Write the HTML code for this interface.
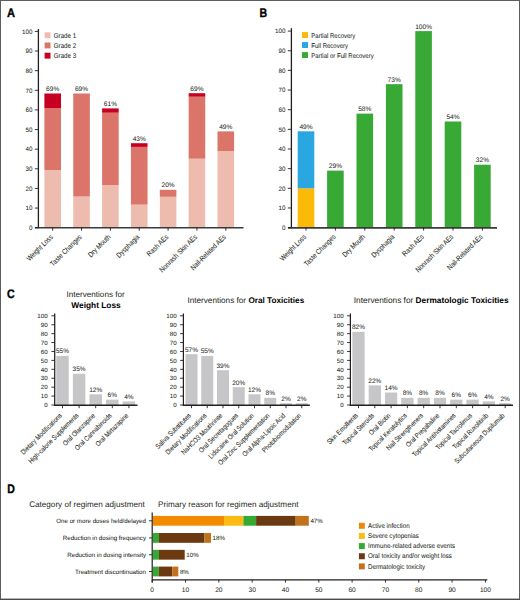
<!DOCTYPE html>
<html><head><meta charset="utf-8"><style>
html,body{margin:0;padding:0;background:#fff;}
body{width:520px;height:600px;overflow:hidden;}
svg{display:block;font-family:"Liberation Sans", sans-serif;text-rendering:geometricPrecision;}
.s{stroke:#231f20;stroke-width:0.04px;}
</style></head><body>
<svg width="520" height="600" viewBox="0 0 520 600">
<rect x="0" y="0" width="520" height="600" fill="#fff"/>
<text x="0" y="0" font-size="12.3" font-weight="bold" fill="#000" stroke="#000" stroke-width="0.35" transform="translate(6.9 16.6) scale(0.9 1)">A</text>
<text x="0" y="0" font-size="12.3" font-weight="bold" fill="#000" stroke="#000" stroke-width="0.35" transform="translate(259.6 16.6) scale(0.86 1)">B</text>
<text x="0" y="0" font-size="12.3" font-weight="bold" fill="#000" stroke="#000" stroke-width="0.35" transform="translate(7.1 298.1) scale(0.86 1)">C</text>
<text x="0" y="0" font-size="12.3" font-weight="bold" fill="#000" stroke="#000" stroke-width="0.35" transform="translate(7.3 492.9) scale(0.86 1)">D</text>
<text x="32.60" y="229.97" font-size="6.3" text-anchor="end" class="s" fill="#231f20" >0</text>
<text x="32.60" y="210.34" font-size="6.3" text-anchor="end" class="s" fill="#231f20" >10</text>
<text x="32.60" y="190.71" font-size="6.3" text-anchor="end" class="s" fill="#231f20" >20</text>
<text x="32.60" y="171.08" font-size="6.3" text-anchor="end" class="s" fill="#231f20" >30</text>
<text x="32.60" y="151.45" font-size="6.3" text-anchor="end" class="s" fill="#231f20" >40</text>
<text x="32.60" y="131.82" font-size="6.3" text-anchor="end" class="s" fill="#231f20" >50</text>
<text x="32.60" y="112.19" font-size="6.3" text-anchor="end" class="s" fill="#231f20" >60</text>
<text x="32.60" y="92.56" font-size="6.3" text-anchor="end" class="s" fill="#231f20" >70</text>
<text x="32.60" y="72.93" font-size="6.3" text-anchor="end" class="s" fill="#231f20" >80</text>
<text x="32.60" y="53.30" font-size="6.3" text-anchor="end" class="s" fill="#231f20" >90</text>
<text x="32.60" y="33.67" font-size="6.3" text-anchor="end" class="s" fill="#231f20" >100</text>
<rect x="44.40" y="170.00" width="16.60" height="57.70" fill="#eebcaf"/>
<rect x="44.40" y="108.10" width="16.60" height="61.90" fill="#dc7569"/>
<rect x="44.40" y="93.50" width="16.60" height="14.60" fill="#c70022"/>
<text x="52.70" y="90.90" font-size="6.6" text-anchor="middle" class="s" fill="#231f20" >69%</text>
<text x="0" y="0" font-size="6.4" text-anchor="end" fill="#231f20" class="s" transform="translate(53.45 237.50) rotate(-45) scale(0.97 1.15)">Weight Loss</text>
<rect x="73.25" y="196.50" width="16.60" height="31.20" fill="#eebcaf"/>
<rect x="73.25" y="93.50" width="16.60" height="103.00" fill="#dc7569"/>
<text x="81.55" y="90.90" font-size="6.6" text-anchor="middle" class="s" fill="#231f20" >69%</text>
<text x="0" y="0" font-size="6.4" text-anchor="end" fill="#231f20" class="s" transform="translate(82.30 237.50) rotate(-45) scale(0.97 1.15)">Taste Changes</text>
<rect x="102.10" y="185.00" width="16.60" height="42.70" fill="#eebcaf"/>
<rect x="102.10" y="112.70" width="16.60" height="72.30" fill="#dc7569"/>
<rect x="102.10" y="108.40" width="16.60" height="4.30" fill="#c70022"/>
<text x="110.40" y="105.80" font-size="6.6" text-anchor="middle" class="s" fill="#231f20" >61%</text>
<text x="0" y="0" font-size="6.4" text-anchor="end" fill="#231f20" class="s" transform="translate(111.15 237.50) rotate(-45) scale(0.97 1.15)">Dry Mouth</text>
<rect x="130.95" y="204.60" width="16.60" height="23.10" fill="#eebcaf"/>
<rect x="130.95" y="146.90" width="16.60" height="57.70" fill="#dc7569"/>
<rect x="130.95" y="143.20" width="16.60" height="3.70" fill="#c70022"/>
<text x="139.25" y="140.60" font-size="6.6" text-anchor="middle" class="s" fill="#231f20" >43%</text>
<text x="0" y="0" font-size="6.4" text-anchor="end" fill="#231f20" class="s" transform="translate(140.00 237.50) rotate(-45) scale(0.97 1.15)">Dysphagia</text>
<rect x="159.80" y="196.80" width="16.60" height="30.90" fill="#eebcaf"/>
<rect x="159.80" y="189.80" width="16.60" height="7.00" fill="#dc7569"/>
<text x="168.10" y="187.20" font-size="6.6" text-anchor="middle" class="s" fill="#231f20" >20%</text>
<text x="0" y="0" font-size="6.4" text-anchor="end" fill="#231f20" class="s" transform="translate(168.85 237.50) rotate(-45) scale(0.97 1.15)">Rash AEs</text>
<rect x="188.65" y="158.70" width="16.60" height="69.00" fill="#eebcaf"/>
<rect x="188.65" y="96.70" width="16.60" height="62.00" fill="#dc7569"/>
<rect x="188.65" y="93.20" width="16.60" height="3.50" fill="#c70022"/>
<text x="196.95" y="90.60" font-size="6.6" text-anchor="middle" class="s" fill="#231f20" >69%</text>
<text x="0" y="0" font-size="6.4" text-anchor="end" fill="#231f20" class="s" transform="translate(197.70 237.50) rotate(-45) scale(0.97 1.15)">Nonrash Skin AEs</text>
<rect x="217.50" y="151.00" width="16.60" height="76.70" fill="#eebcaf"/>
<rect x="217.50" y="131.40" width="16.60" height="19.60" fill="#dc7569"/>
<text x="225.80" y="128.80" font-size="6.6" text-anchor="middle" class="s" fill="#231f20" >49%</text>
<text x="0" y="0" font-size="6.4" text-anchor="end" fill="#231f20" class="s" transform="translate(226.55 237.50) rotate(-45) scale(0.97 1.15)">Nail-Related AEs</text>
<rect x="44.60" y="32.30" width="5.90" height="5.90" fill="#eebcaf"/>
<text x="0" y="0" font-size="6.3" fill="#231f20" class="s" transform="translate(53.80 37.70) scale(0.98 1.09)">Grade 1</text>
<rect x="44.60" y="42.50" width="5.90" height="5.90" fill="#dc7569"/>
<text x="0" y="0" font-size="6.3" fill="#231f20" class="s" transform="translate(53.80 47.90) scale(0.98 1.09)">Grade 2</text>
<rect x="44.60" y="52.70" width="5.90" height="5.90" fill="#c70022"/>
<text x="0" y="0" font-size="6.3" fill="#231f20" class="s" transform="translate(53.80 58.10) scale(0.98 1.09)">Grade 3</text>
<text x="285.60" y="229.87" font-size="6.3" text-anchor="end" class="s" fill="#231f20" >0</text>
<text x="285.60" y="210.22" font-size="6.3" text-anchor="end" class="s" fill="#231f20" >10</text>
<text x="285.60" y="190.57" font-size="6.3" text-anchor="end" class="s" fill="#231f20" >20</text>
<text x="285.60" y="170.92" font-size="6.3" text-anchor="end" class="s" fill="#231f20" >30</text>
<text x="285.60" y="151.27" font-size="6.3" text-anchor="end" class="s" fill="#231f20" >40</text>
<text x="285.60" y="131.62" font-size="6.3" text-anchor="end" class="s" fill="#231f20" >50</text>
<text x="285.60" y="111.97" font-size="6.3" text-anchor="end" class="s" fill="#231f20" >60</text>
<text x="285.60" y="92.32" font-size="6.3" text-anchor="end" class="s" fill="#231f20" >70</text>
<text x="285.60" y="72.67" font-size="6.3" text-anchor="end" class="s" fill="#231f20" >80</text>
<text x="285.60" y="53.02" font-size="6.3" text-anchor="end" class="s" fill="#231f20" >90</text>
<text x="285.60" y="33.37" font-size="6.3" text-anchor="end" class="s" fill="#231f20" >100</text>
<rect x="297.70" y="188.30" width="16.60" height="39.30" fill="#fcba08"/>
<rect x="297.70" y="131.31" width="16.60" height="56.98" fill="#2aa6e0"/>
<text x="306.00" y="128.72" font-size="6.6" text-anchor="middle" class="s" fill="#231f20" >49%</text>
<text x="0" y="0" font-size="6.4" text-anchor="end" fill="#231f20" class="s" transform="translate(306.75 237.40) rotate(-45) scale(0.97 1.15)">Weight Loss</text>
<rect x="327.10" y="170.62" width="16.60" height="56.98" fill="#39a935"/>
<text x="335.40" y="168.02" font-size="6.6" text-anchor="middle" class="s" fill="#231f20" >29%</text>
<text x="0" y="0" font-size="6.4" text-anchor="end" fill="#231f20" class="s" transform="translate(336.15 237.40) rotate(-45) scale(0.97 1.15)">Taste Changes</text>
<rect x="356.50" y="113.63" width="16.60" height="113.97" fill="#39a935"/>
<text x="364.80" y="111.03" font-size="6.6" text-anchor="middle" class="s" fill="#231f20" >58%</text>
<text x="0" y="0" font-size="6.4" text-anchor="end" fill="#231f20" class="s" transform="translate(365.55 237.40) rotate(-45) scale(0.97 1.15)">Dry Mouth</text>
<rect x="385.90" y="84.16" width="16.60" height="143.44" fill="#39a935"/>
<text x="394.20" y="81.56" font-size="6.6" text-anchor="middle" class="s" fill="#231f20" >73%</text>
<text x="0" y="0" font-size="6.4" text-anchor="end" fill="#231f20" class="s" transform="translate(394.95 237.40) rotate(-45) scale(0.97 1.15)">Dysphagia</text>
<rect x="415.30" y="31.10" width="16.60" height="196.50" fill="#39a935"/>
<text x="423.60" y="28.50" font-size="6.6" text-anchor="middle" class="s" fill="#231f20" >100%</text>
<text x="0" y="0" font-size="6.4" text-anchor="end" fill="#231f20" class="s" transform="translate(424.35 237.40) rotate(-45) scale(0.97 1.15)">Rash AEs</text>
<rect x="444.70" y="121.49" width="16.60" height="106.11" fill="#39a935"/>
<text x="453.00" y="118.89" font-size="6.6" text-anchor="middle" class="s" fill="#231f20" >54%</text>
<text x="0" y="0" font-size="6.4" text-anchor="end" fill="#231f20" class="s" transform="translate(453.75 237.40) rotate(-45) scale(0.97 1.15)">Nonrash Skin AEs</text>
<rect x="474.10" y="164.72" width="16.60" height="62.88" fill="#39a935"/>
<text x="482.40" y="162.12" font-size="6.6" text-anchor="middle" class="s" fill="#231f20" >32%</text>
<text x="0" y="0" font-size="6.4" text-anchor="end" fill="#231f20" class="s" transform="translate(483.15 237.40) rotate(-45) scale(0.97 1.15)">Nail-Related AEs</text>
<rect x="302.00" y="32.10" width="6.00" height="5.90" fill="#fcba08"/>
<text x="0" y="0" font-size="6.2" fill="#231f20" class="s" transform="translate(311.30 37.50) scale(0.97 1.09)">Partial Recovery</text>
<rect x="302.00" y="42.10" width="6.00" height="5.90" fill="#2aa6e0"/>
<text x="0" y="0" font-size="6.2" fill="#231f20" class="s" transform="translate(311.30 47.50) scale(0.97 1.09)">Full Recovery</text>
<rect x="302.00" y="52.10" width="6.00" height="5.90" fill="#39a935"/>
<text x="0" y="0" font-size="6.2" fill="#231f20" class="s" transform="translate(311.30 57.50) scale(0.97 1.09)">Partial or Full Recovery</text>
<text x="47.70" y="407.20" font-size="6.2" text-anchor="end" class="s" fill="#231f20" >0</text>
<text x="47.70" y="398.28" font-size="6.2" text-anchor="end" class="s" fill="#231f20" >10</text>
<text x="47.70" y="389.36" font-size="6.2" text-anchor="end" class="s" fill="#231f20" >20</text>
<text x="47.70" y="380.44" font-size="6.2" text-anchor="end" class="s" fill="#231f20" >30</text>
<text x="47.70" y="371.52" font-size="6.2" text-anchor="end" class="s" fill="#231f20" >40</text>
<text x="47.70" y="362.60" font-size="6.2" text-anchor="end" class="s" fill="#231f20" >50</text>
<text x="47.70" y="353.68" font-size="6.2" text-anchor="end" class="s" fill="#231f20" >60</text>
<text x="47.70" y="344.76" font-size="6.2" text-anchor="end" class="s" fill="#231f20" >70</text>
<text x="47.70" y="335.84" font-size="6.2" text-anchor="end" class="s" fill="#231f20" >80</text>
<text x="47.70" y="326.92" font-size="6.2" text-anchor="end" class="s" fill="#231f20" >90</text>
<text x="47.70" y="318.00" font-size="6.2" text-anchor="end" class="s" fill="#231f20" >100</text>
<rect x="56.25" y="355.94" width="12.50" height="49.06" fill="#c6c5c8"/>
<text x="62.50" y="353.34" font-size="6.5" text-anchor="middle" class="s" fill="#231f20" >55%</text>
<text x="0" y="0" font-size="6.1" text-anchor="end" fill="#231f20" class="s" transform="translate(62.40 416.10) rotate(-45) scale(0.97 1.15)">Dietary Modifications</text>
<rect x="72.85" y="373.78" width="12.50" height="31.22" fill="#c6c5c8"/>
<text x="79.10" y="371.18" font-size="6.5" text-anchor="middle" class="s" fill="#231f20" >35%</text>
<text x="0" y="0" font-size="6.1" text-anchor="end" fill="#231f20" class="s" transform="translate(79.00 416.10) rotate(-45) scale(0.97 1.15)">High-calorie Supplements</text>
<rect x="89.45" y="394.30" width="12.50" height="10.70" fill="#c6c5c8"/>
<text x="95.70" y="391.70" font-size="6.5" text-anchor="middle" class="s" fill="#231f20" >12%</text>
<text x="0" y="0" font-size="6.1" text-anchor="end" fill="#231f20" class="s" transform="translate(95.60 416.10) rotate(-45) scale(0.97 1.15)">Oral Olanzapine</text>
<rect x="106.05" y="399.65" width="12.50" height="5.35" fill="#c6c5c8"/>
<text x="112.30" y="397.05" font-size="6.5" text-anchor="middle" class="s" fill="#231f20" >6%</text>
<text x="0" y="0" font-size="6.1" text-anchor="end" fill="#231f20" class="s" transform="translate(112.20 416.10) rotate(-45) scale(0.97 1.15)">Oral Cannabinoids</text>
<rect x="122.65" y="401.43" width="12.50" height="3.57" fill="#c6c5c8"/>
<text x="128.90" y="398.83" font-size="6.5" text-anchor="middle" class="s" fill="#231f20" >4%</text>
<text x="0" y="0" font-size="6.1" text-anchor="end" fill="#231f20" class="s" transform="translate(128.80 416.10) rotate(-45) scale(0.97 1.15)">Oral Mirtazapine</text>
<text x="176.70" y="407.20" font-size="6.2" text-anchor="end" class="s" fill="#231f20" >0</text>
<text x="176.70" y="398.28" font-size="6.2" text-anchor="end" class="s" fill="#231f20" >10</text>
<text x="176.70" y="389.36" font-size="6.2" text-anchor="end" class="s" fill="#231f20" >20</text>
<text x="176.70" y="380.44" font-size="6.2" text-anchor="end" class="s" fill="#231f20" >30</text>
<text x="176.70" y="371.52" font-size="6.2" text-anchor="end" class="s" fill="#231f20" >40</text>
<text x="176.70" y="362.60" font-size="6.2" text-anchor="end" class="s" fill="#231f20" >50</text>
<text x="176.70" y="353.68" font-size="6.2" text-anchor="end" class="s" fill="#231f20" >60</text>
<text x="176.70" y="344.76" font-size="6.2" text-anchor="end" class="s" fill="#231f20" >70</text>
<text x="176.70" y="335.84" font-size="6.2" text-anchor="end" class="s" fill="#231f20" >80</text>
<text x="176.70" y="326.92" font-size="6.2" text-anchor="end" class="s" fill="#231f20" >90</text>
<text x="176.70" y="318.00" font-size="6.2" text-anchor="end" class="s" fill="#231f20" >100</text>
<rect x="185.50" y="354.16" width="12.00" height="50.84" fill="#c6c5c8"/>
<text x="191.50" y="351.56" font-size="6.5" text-anchor="middle" class="s" fill="#231f20" >57%</text>
<text x="0" y="0" font-size="6.1" text-anchor="end" fill="#231f20" class="s" transform="translate(191.40 416.10) rotate(-45) scale(0.97 1.15)">Saliva Substitutes</text>
<rect x="201.25" y="355.94" width="12.00" height="49.06" fill="#c6c5c8"/>
<text x="207.25" y="353.34" font-size="6.5" text-anchor="middle" class="s" fill="#231f20" >55%</text>
<text x="0" y="0" font-size="6.1" text-anchor="end" fill="#231f20" class="s" transform="translate(207.15 416.10) rotate(-45) scale(0.97 1.15)">Dietary Modifications</text>
<rect x="217.00" y="370.21" width="12.00" height="34.79" fill="#c6c5c8"/>
<text x="223.00" y="367.61" font-size="6.5" text-anchor="middle" class="s" fill="#231f20" >39%</text>
<text x="0" y="0" font-size="6.1" text-anchor="end" fill="#231f20" class="s" transform="translate(222.90 416.10) rotate(-45) scale(0.97 1.15)">NaHCO3 Mouthrinse</text>
<rect x="232.75" y="387.16" width="12.00" height="17.84" fill="#c6c5c8"/>
<text x="238.75" y="384.56" font-size="6.5" text-anchor="middle" class="s" fill="#231f20" >20%</text>
<text x="0" y="0" font-size="6.1" text-anchor="end" fill="#231f20" class="s" transform="translate(238.65 416.10) rotate(-45) scale(0.97 1.15)">Oral Secretagogues</text>
<rect x="248.50" y="394.30" width="12.00" height="10.70" fill="#c6c5c8"/>
<text x="254.50" y="391.70" font-size="6.5" text-anchor="middle" class="s" fill="#231f20" >12%</text>
<text x="0" y="0" font-size="6.1" text-anchor="end" fill="#231f20" class="s" transform="translate(254.40 416.10) rotate(-45) scale(0.97 1.15)">Lidocaine Oral Solution</text>
<rect x="264.25" y="397.86" width="12.00" height="7.14" fill="#c6c5c8"/>
<text x="270.25" y="395.26" font-size="6.5" text-anchor="middle" class="s" fill="#231f20" >8%</text>
<text x="0" y="0" font-size="6.1" text-anchor="end" fill="#231f20" class="s" transform="translate(270.15 416.10) rotate(-45) scale(0.97 1.15)">Oral Zinc Supplementation</text>
<rect x="280.00" y="403.22" width="12.00" height="1.78" fill="#c6c5c8"/>
<text x="286.00" y="400.62" font-size="6.5" text-anchor="middle" class="s" fill="#231f20" >2%</text>
<text x="0" y="0" font-size="6.1" text-anchor="end" fill="#231f20" class="s" transform="translate(285.90 416.10) rotate(-45) scale(0.97 1.15)">Oral Alpha-Lipoic Acid</text>
<rect x="295.75" y="403.22" width="12.00" height="1.78" fill="#c6c5c8"/>
<text x="301.75" y="400.62" font-size="6.5" text-anchor="middle" class="s" fill="#231f20" >2%</text>
<text x="0" y="0" font-size="6.1" text-anchor="end" fill="#231f20" class="s" transform="translate(301.65 416.10) rotate(-45) scale(0.97 1.15)">Photobiomodulation</text>
<text x="343.70" y="407.20" font-size="6.2" text-anchor="end" class="s" fill="#231f20" >0</text>
<text x="343.70" y="398.28" font-size="6.2" text-anchor="end" class="s" fill="#231f20" >10</text>
<text x="343.70" y="389.36" font-size="6.2" text-anchor="end" class="s" fill="#231f20" >20</text>
<text x="343.70" y="380.44" font-size="6.2" text-anchor="end" class="s" fill="#231f20" >30</text>
<text x="343.70" y="371.52" font-size="6.2" text-anchor="end" class="s" fill="#231f20" >40</text>
<text x="343.70" y="362.60" font-size="6.2" text-anchor="end" class="s" fill="#231f20" >50</text>
<text x="343.70" y="353.68" font-size="6.2" text-anchor="end" class="s" fill="#231f20" >60</text>
<text x="343.70" y="344.76" font-size="6.2" text-anchor="end" class="s" fill="#231f20" >70</text>
<text x="343.70" y="335.84" font-size="6.2" text-anchor="end" class="s" fill="#231f20" >80</text>
<text x="343.70" y="326.92" font-size="6.2" text-anchor="end" class="s" fill="#231f20" >90</text>
<text x="343.70" y="318.00" font-size="6.2" text-anchor="end" class="s" fill="#231f20" >100</text>
<rect x="352.35" y="331.86" width="12.30" height="73.14" fill="#c6c5c8"/>
<text x="358.50" y="329.26" font-size="6.5" text-anchor="middle" class="s" fill="#231f20" >82%</text>
<text x="0" y="0" font-size="6.1" text-anchor="end" fill="#231f20" class="s" transform="translate(358.40 416.10) rotate(-45) scale(0.97 1.15)">Skin Emollients</text>
<rect x="368.65" y="385.38" width="12.30" height="19.62" fill="#c6c5c8"/>
<text x="374.80" y="382.78" font-size="6.5" text-anchor="middle" class="s" fill="#231f20" >22%</text>
<text x="0" y="0" font-size="6.1" text-anchor="end" fill="#231f20" class="s" transform="translate(374.70 416.10) rotate(-45) scale(0.97 1.15)">Topical Steroids</text>
<rect x="384.95" y="392.51" width="12.30" height="12.49" fill="#c6c5c8"/>
<text x="391.10" y="389.91" font-size="6.5" text-anchor="middle" class="s" fill="#231f20" >14%</text>
<text x="0" y="0" font-size="6.1" text-anchor="end" fill="#231f20" class="s" transform="translate(391.00 416.10) rotate(-45) scale(0.97 1.15)">Oral Biotin</text>
<rect x="401.25" y="397.86" width="12.30" height="7.14" fill="#c6c5c8"/>
<text x="407.40" y="395.26" font-size="6.5" text-anchor="middle" class="s" fill="#231f20" >8%</text>
<text x="0" y="0" font-size="6.1" text-anchor="end" fill="#231f20" class="s" transform="translate(407.30 416.10) rotate(-45) scale(0.97 1.15)">Topical  Keratolytics</text>
<rect x="417.55" y="397.86" width="12.30" height="7.14" fill="#c6c5c8"/>
<text x="423.70" y="395.26" font-size="6.5" text-anchor="middle" class="s" fill="#231f20" >8%</text>
<text x="0" y="0" font-size="6.1" text-anchor="end" fill="#231f20" class="s" transform="translate(423.60 416.10) rotate(-45) scale(0.97 1.15)">Nail Strengtheners</text>
<rect x="433.85" y="397.86" width="12.30" height="7.14" fill="#c6c5c8"/>
<text x="440.00" y="395.26" font-size="6.5" text-anchor="middle" class="s" fill="#231f20" >8%</text>
<text x="0" y="0" font-size="6.1" text-anchor="end" fill="#231f20" class="s" transform="translate(439.90 416.10) rotate(-45) scale(0.97 1.15)">Oral Pregabaline</text>
<rect x="450.15" y="399.65" width="12.30" height="5.35" fill="#c6c5c8"/>
<text x="456.30" y="397.05" font-size="6.5" text-anchor="middle" class="s" fill="#231f20" >6%</text>
<text x="0" y="0" font-size="6.1" text-anchor="end" fill="#231f20" class="s" transform="translate(456.20 416.10) rotate(-45) scale(0.97 1.15)">Topical Antihistamines</text>
<rect x="466.45" y="399.65" width="12.30" height="5.35" fill="#c6c5c8"/>
<text x="472.60" y="397.05" font-size="6.5" text-anchor="middle" class="s" fill="#231f20" >6%</text>
<text x="0" y="0" font-size="6.1" text-anchor="end" fill="#231f20" class="s" transform="translate(472.50 416.10) rotate(-45) scale(0.97 1.15)">Topical Tacrolimus</text>
<rect x="482.75" y="401.43" width="12.30" height="3.57" fill="#c6c5c8"/>
<text x="488.90" y="398.83" font-size="6.5" text-anchor="middle" class="s" fill="#231f20" >4%</text>
<text x="0" y="0" font-size="6.1" text-anchor="end" fill="#231f20" class="s" transform="translate(488.80 416.10) rotate(-45) scale(0.97 1.15)">Topical Ruxolitinib</text>
<rect x="499.05" y="403.22" width="12.30" height="1.78" fill="#c6c5c8"/>
<text x="505.20" y="400.62" font-size="6.5" text-anchor="middle" class="s" fill="#231f20" >2%</text>
<text x="0" y="0" font-size="6.1" text-anchor="end" fill="#231f20" class="s" transform="translate(505.10 416.10) rotate(-45) scale(0.97 1.15)">Subcutaneous Dupilumab</text>
<text x="95.60" y="297.40" font-size="8.15" text-anchor="middle" fill="#231f20" >Interventions for</text>
<text x="96.00" y="307.80" font-size="8.35" text-anchor="middle" font-weight="bold" fill="#000" >Weight Loss</text>
<text x="187.4" y="302.8" font-size="8.2" fill="#231f20">Interventions for <tspan font-weight="bold" fill="#000">Oral Toxicities</tspan></text>
<text x="353.8" y="302.9" font-size="8.3" fill="#231f20">Interventions for <tspan font-weight="bold" fill="#000">Dermatologic Toxicities</tspan></text>
<text x="29.20" y="506.80" font-size="8.15" text-anchor="start" fill="#231f20" >Category of regimen adjustment</text>
<text x="158.00" y="506.80" font-size="8.13" text-anchor="start" fill="#231f20" >Primary reason for regimen adjustment</text>
<text x="152.20" y="592.00" font-size="6.6" text-anchor="middle" class="s" fill="#231f20" >0</text>
<text x="185.52" y="592.00" font-size="6.6" text-anchor="middle" class="s" fill="#231f20" >10</text>
<text x="218.84" y="592.00" font-size="6.6" text-anchor="middle" class="s" fill="#231f20" >20</text>
<text x="252.16" y="592.00" font-size="6.6" text-anchor="middle" class="s" fill="#231f20" >30</text>
<text x="285.48" y="592.00" font-size="6.6" text-anchor="middle" class="s" fill="#231f20" >40</text>
<text x="318.80" y="592.00" font-size="6.6" text-anchor="middle" class="s" fill="#231f20" >50</text>
<text x="352.12" y="592.00" font-size="6.6" text-anchor="middle" class="s" fill="#231f20" >60</text>
<text x="385.44" y="592.00" font-size="6.6" text-anchor="middle" class="s" fill="#231f20" >70</text>
<text x="418.76" y="592.00" font-size="6.6" text-anchor="middle" class="s" fill="#231f20" >80</text>
<text x="452.08" y="592.00" font-size="6.6" text-anchor="middle" class="s" fill="#231f20" >90</text>
<text x="485.40" y="592.00" font-size="6.6" text-anchor="middle" class="s" fill="#231f20" >100</text>
<rect x="152.80" y="515.90" width="71.20" height="9.80" fill="#f38b00"/>
<rect x="224.00" y="515.90" width="19.40" height="9.80" fill="#fbbb14"/>
<rect x="243.40" y="515.90" width="12.70" height="9.80" fill="#36a935"/>
<rect x="256.10" y="515.90" width="39.60" height="9.80" fill="#6b3a10"/>
<rect x="295.70" y="515.90" width="13.10" height="9.80" fill="#c2721d"/>
<text x="146.00" y="523.00" font-size="6.2" text-anchor="end" class="s" fill="#231f20" >One or more doses held/delayed</text>
<text x="310.40" y="523.00" font-size="6.2" text-anchor="start" class="s" fill="#231f20" >47%</text>
<rect x="152.80" y="533.00" width="6.20" height="9.80" fill="#36a935"/>
<rect x="159.00" y="533.00" width="45.50" height="9.80" fill="#6b3a10"/>
<rect x="204.50" y="533.00" width="6.50" height="9.80" fill="#c2721d"/>
<text x="146.00" y="540.10" font-size="6.2" text-anchor="end" class="s" fill="#231f20" >Reduction in dosing frequency</text>
<text x="212.60" y="540.10" font-size="6.2" text-anchor="start" class="s" fill="#231f20" >18%</text>
<rect x="152.80" y="549.85" width="6.20" height="9.80" fill="#36a935"/>
<rect x="159.00" y="549.85" width="25.70" height="9.80" fill="#6b3a10"/>
<text x="146.00" y="556.95" font-size="6.2" text-anchor="end" class="s" fill="#231f20" >Reduction in dosing intensity</text>
<text x="186.30" y="556.95" font-size="6.2" text-anchor="start" class="s" fill="#231f20" >10%</text>
<rect x="152.80" y="566.60" width="6.00" height="9.80" fill="#36a935"/>
<rect x="158.80" y="566.60" width="13.40" height="9.80" fill="#6b3a10"/>
<rect x="172.20" y="566.60" width="6.10" height="9.80" fill="#c2721d"/>
<text x="146.00" y="573.70" font-size="6.2" text-anchor="end" class="s" fill="#231f20" >Treatment discontinuation</text>
<text x="179.90" y="573.70" font-size="6.2" text-anchor="start" class="s" fill="#231f20" >8%</text>
<rect x="358.90" y="522.80" width="5.90" height="6.00" fill="#ec880a"/>
<text x="0" y="0" font-size="6.2" fill="#231f20" class="s" transform="translate(368.00 528.00) scale(1.0 1.09)">Active infection</text>
<rect x="358.90" y="532.95" width="5.90" height="6.00" fill="#f7c00c"/>
<text x="0" y="0" font-size="6.2" fill="#231f20" class="s" transform="translate(368.00 538.15) scale(1.0 1.09)">Severe cytopenias</text>
<rect x="358.90" y="543.10" width="5.90" height="6.00" fill="#36a935"/>
<text x="0" y="0" font-size="6.2" fill="#231f20" class="s" transform="translate(368.00 548.30) scale(1.0 1.09)">Immune-related adverse events</text>
<rect x="358.90" y="553.25" width="5.90" height="6.00" fill="#6b3a10"/>
<text x="0" y="0" font-size="6.2" fill="#231f20" class="s" transform="translate(368.00 558.45) scale(1.0 1.09)">Oral toxicity and/or weight loss</text>
<rect x="358.90" y="563.40" width="5.90" height="6.00" fill="#c2721d"/>
<text x="0" y="0" font-size="6.2" fill="#231f20" class="s" transform="translate(368.00 568.60) scale(1.0 1.09)">Dermatologic toxicity</text>
<line x1="38.40" y1="29.00" x2="38.40" y2="228.20" stroke="#231f20" stroke-width="1.3"/>
<line x1="35.00" y1="227.70" x2="243.50" y2="227.70" stroke="#3a3a3a" stroke-width="1.6"/>
<line x1="34.80" y1="227.70" x2="38.40" y2="227.70" stroke="#231f20" stroke-width="0.9"/>
<line x1="34.80" y1="208.07" x2="38.40" y2="208.07" stroke="#231f20" stroke-width="0.9"/>
<line x1="34.80" y1="188.44" x2="38.40" y2="188.44" stroke="#231f20" stroke-width="0.9"/>
<line x1="34.80" y1="168.81" x2="38.40" y2="168.81" stroke="#231f20" stroke-width="0.9"/>
<line x1="34.80" y1="149.18" x2="38.40" y2="149.18" stroke="#231f20" stroke-width="0.9"/>
<line x1="34.80" y1="129.55" x2="38.40" y2="129.55" stroke="#231f20" stroke-width="0.9"/>
<line x1="34.80" y1="109.92" x2="38.40" y2="109.92" stroke="#231f20" stroke-width="0.9"/>
<line x1="34.80" y1="90.29" x2="38.40" y2="90.29" stroke="#231f20" stroke-width="0.9"/>
<line x1="34.80" y1="70.66" x2="38.40" y2="70.66" stroke="#231f20" stroke-width="0.9"/>
<line x1="34.80" y1="51.03" x2="38.40" y2="51.03" stroke="#231f20" stroke-width="0.9"/>
<line x1="34.80" y1="31.40" x2="38.40" y2="31.40" stroke="#231f20" stroke-width="0.9"/>
<line x1="52.70" y1="227.70" x2="52.70" y2="230.70" stroke="#231f20" stroke-width="0.9"/>
<line x1="81.55" y1="227.70" x2="81.55" y2="230.70" stroke="#231f20" stroke-width="0.9"/>
<line x1="110.40" y1="227.70" x2="110.40" y2="230.70" stroke="#231f20" stroke-width="0.9"/>
<line x1="139.25" y1="227.70" x2="139.25" y2="230.70" stroke="#231f20" stroke-width="0.9"/>
<line x1="168.10" y1="227.70" x2="168.10" y2="230.70" stroke="#231f20" stroke-width="0.9"/>
<line x1="196.95" y1="227.70" x2="196.95" y2="230.70" stroke="#231f20" stroke-width="0.9"/>
<line x1="225.80" y1="227.70" x2="225.80" y2="230.70" stroke="#231f20" stroke-width="0.9"/>
<line x1="291.40" y1="28.20" x2="291.40" y2="228.40" stroke="#231f20" stroke-width="1.3"/>
<line x1="288.00" y1="227.90" x2="497.00" y2="227.90" stroke="#3a3a3a" stroke-width="1.6"/>
<line x1="287.80" y1="227.60" x2="291.40" y2="227.60" stroke="#231f20" stroke-width="0.9"/>
<line x1="287.80" y1="207.95" x2="291.40" y2="207.95" stroke="#231f20" stroke-width="0.9"/>
<line x1="287.80" y1="188.30" x2="291.40" y2="188.30" stroke="#231f20" stroke-width="0.9"/>
<line x1="287.80" y1="168.65" x2="291.40" y2="168.65" stroke="#231f20" stroke-width="0.9"/>
<line x1="287.80" y1="149.00" x2="291.40" y2="149.00" stroke="#231f20" stroke-width="0.9"/>
<line x1="287.80" y1="129.35" x2="291.40" y2="129.35" stroke="#231f20" stroke-width="0.9"/>
<line x1="287.80" y1="109.70" x2="291.40" y2="109.70" stroke="#231f20" stroke-width="0.9"/>
<line x1="287.80" y1="90.05" x2="291.40" y2="90.05" stroke="#231f20" stroke-width="0.9"/>
<line x1="287.80" y1="70.40" x2="291.40" y2="70.40" stroke="#231f20" stroke-width="0.9"/>
<line x1="287.80" y1="50.75" x2="291.40" y2="50.75" stroke="#231f20" stroke-width="0.9"/>
<line x1="287.80" y1="31.10" x2="291.40" y2="31.10" stroke="#231f20" stroke-width="0.9"/>
<line x1="306.00" y1="227.60" x2="306.00" y2="230.60" stroke="#231f20" stroke-width="0.9"/>
<line x1="335.40" y1="227.60" x2="335.40" y2="230.60" stroke="#231f20" stroke-width="0.9"/>
<line x1="364.80" y1="227.60" x2="364.80" y2="230.60" stroke="#231f20" stroke-width="0.9"/>
<line x1="394.20" y1="227.60" x2="394.20" y2="230.60" stroke="#231f20" stroke-width="0.9"/>
<line x1="423.60" y1="227.60" x2="423.60" y2="230.60" stroke="#231f20" stroke-width="0.9"/>
<line x1="453.00" y1="227.60" x2="453.00" y2="230.60" stroke="#231f20" stroke-width="0.9"/>
<line x1="482.40" y1="227.60" x2="482.40" y2="230.60" stroke="#231f20" stroke-width="0.9"/>
<line x1="54.70" y1="313.50" x2="54.70" y2="406.00" stroke="#231f20" stroke-width="1.25"/>
<line x1="54.20" y1="405.30" x2="137.50" y2="405.30" stroke="#231f20" stroke-width="1.6"/>
<line x1="51.40" y1="405.00" x2="54.70" y2="405.00" stroke="#231f20" stroke-width="0.9"/>
<line x1="51.40" y1="396.08" x2="54.70" y2="396.08" stroke="#231f20" stroke-width="0.9"/>
<line x1="51.40" y1="387.16" x2="54.70" y2="387.16" stroke="#231f20" stroke-width="0.9"/>
<line x1="51.40" y1="378.24" x2="54.70" y2="378.24" stroke="#231f20" stroke-width="0.9"/>
<line x1="51.40" y1="369.32" x2="54.70" y2="369.32" stroke="#231f20" stroke-width="0.9"/>
<line x1="51.40" y1="360.40" x2="54.70" y2="360.40" stroke="#231f20" stroke-width="0.9"/>
<line x1="51.40" y1="351.48" x2="54.70" y2="351.48" stroke="#231f20" stroke-width="0.9"/>
<line x1="51.40" y1="342.56" x2="54.70" y2="342.56" stroke="#231f20" stroke-width="0.9"/>
<line x1="51.40" y1="333.64" x2="54.70" y2="333.64" stroke="#231f20" stroke-width="0.9"/>
<line x1="51.40" y1="324.72" x2="54.70" y2="324.72" stroke="#231f20" stroke-width="0.9"/>
<line x1="51.40" y1="315.80" x2="54.70" y2="315.80" stroke="#231f20" stroke-width="0.9"/>
<line x1="62.50" y1="405.50" x2="62.50" y2="408.20" stroke="#231f20" stroke-width="0.9"/>
<line x1="79.10" y1="405.50" x2="79.10" y2="408.20" stroke="#231f20" stroke-width="0.9"/>
<line x1="95.70" y1="405.50" x2="95.70" y2="408.20" stroke="#231f20" stroke-width="0.9"/>
<line x1="112.30" y1="405.50" x2="112.30" y2="408.20" stroke="#231f20" stroke-width="0.9"/>
<line x1="128.90" y1="405.50" x2="128.90" y2="408.20" stroke="#231f20" stroke-width="0.9"/>
<line x1="183.40" y1="313.50" x2="183.40" y2="406.00" stroke="#231f20" stroke-width="1.25"/>
<line x1="182.90" y1="405.30" x2="309.80" y2="405.30" stroke="#231f20" stroke-width="1.6"/>
<line x1="180.10" y1="405.00" x2="183.40" y2="405.00" stroke="#231f20" stroke-width="0.9"/>
<line x1="180.10" y1="396.08" x2="183.40" y2="396.08" stroke="#231f20" stroke-width="0.9"/>
<line x1="180.10" y1="387.16" x2="183.40" y2="387.16" stroke="#231f20" stroke-width="0.9"/>
<line x1="180.10" y1="378.24" x2="183.40" y2="378.24" stroke="#231f20" stroke-width="0.9"/>
<line x1="180.10" y1="369.32" x2="183.40" y2="369.32" stroke="#231f20" stroke-width="0.9"/>
<line x1="180.10" y1="360.40" x2="183.40" y2="360.40" stroke="#231f20" stroke-width="0.9"/>
<line x1="180.10" y1="351.48" x2="183.40" y2="351.48" stroke="#231f20" stroke-width="0.9"/>
<line x1="180.10" y1="342.56" x2="183.40" y2="342.56" stroke="#231f20" stroke-width="0.9"/>
<line x1="180.10" y1="333.64" x2="183.40" y2="333.64" stroke="#231f20" stroke-width="0.9"/>
<line x1="180.10" y1="324.72" x2="183.40" y2="324.72" stroke="#231f20" stroke-width="0.9"/>
<line x1="180.10" y1="315.80" x2="183.40" y2="315.80" stroke="#231f20" stroke-width="0.9"/>
<line x1="191.50" y1="405.50" x2="191.50" y2="408.20" stroke="#231f20" stroke-width="0.9"/>
<line x1="207.25" y1="405.50" x2="207.25" y2="408.20" stroke="#231f20" stroke-width="0.9"/>
<line x1="223.00" y1="405.50" x2="223.00" y2="408.20" stroke="#231f20" stroke-width="0.9"/>
<line x1="238.75" y1="405.50" x2="238.75" y2="408.20" stroke="#231f20" stroke-width="0.9"/>
<line x1="254.50" y1="405.50" x2="254.50" y2="408.20" stroke="#231f20" stroke-width="0.9"/>
<line x1="270.25" y1="405.50" x2="270.25" y2="408.20" stroke="#231f20" stroke-width="0.9"/>
<line x1="286.00" y1="405.50" x2="286.00" y2="408.20" stroke="#231f20" stroke-width="0.9"/>
<line x1="301.75" y1="405.50" x2="301.75" y2="408.20" stroke="#231f20" stroke-width="0.9"/>
<line x1="350.40" y1="313.50" x2="350.40" y2="406.00" stroke="#231f20" stroke-width="1.25"/>
<line x1="349.90" y1="405.30" x2="513.00" y2="405.30" stroke="#231f20" stroke-width="1.6"/>
<line x1="347.10" y1="405.00" x2="350.40" y2="405.00" stroke="#231f20" stroke-width="0.9"/>
<line x1="347.10" y1="396.08" x2="350.40" y2="396.08" stroke="#231f20" stroke-width="0.9"/>
<line x1="347.10" y1="387.16" x2="350.40" y2="387.16" stroke="#231f20" stroke-width="0.9"/>
<line x1="347.10" y1="378.24" x2="350.40" y2="378.24" stroke="#231f20" stroke-width="0.9"/>
<line x1="347.10" y1="369.32" x2="350.40" y2="369.32" stroke="#231f20" stroke-width="0.9"/>
<line x1="347.10" y1="360.40" x2="350.40" y2="360.40" stroke="#231f20" stroke-width="0.9"/>
<line x1="347.10" y1="351.48" x2="350.40" y2="351.48" stroke="#231f20" stroke-width="0.9"/>
<line x1="347.10" y1="342.56" x2="350.40" y2="342.56" stroke="#231f20" stroke-width="0.9"/>
<line x1="347.10" y1="333.64" x2="350.40" y2="333.64" stroke="#231f20" stroke-width="0.9"/>
<line x1="347.10" y1="324.72" x2="350.40" y2="324.72" stroke="#231f20" stroke-width="0.9"/>
<line x1="347.10" y1="315.80" x2="350.40" y2="315.80" stroke="#231f20" stroke-width="0.9"/>
<line x1="358.50" y1="405.50" x2="358.50" y2="408.20" stroke="#231f20" stroke-width="0.9"/>
<line x1="374.80" y1="405.50" x2="374.80" y2="408.20" stroke="#231f20" stroke-width="0.9"/>
<line x1="391.10" y1="405.50" x2="391.10" y2="408.20" stroke="#231f20" stroke-width="0.9"/>
<line x1="407.40" y1="405.50" x2="407.40" y2="408.20" stroke="#231f20" stroke-width="0.9"/>
<line x1="423.70" y1="405.50" x2="423.70" y2="408.20" stroke="#231f20" stroke-width="0.9"/>
<line x1="440.00" y1="405.50" x2="440.00" y2="408.20" stroke="#231f20" stroke-width="0.9"/>
<line x1="456.30" y1="405.50" x2="456.30" y2="408.20" stroke="#231f20" stroke-width="0.9"/>
<line x1="472.60" y1="405.50" x2="472.60" y2="408.20" stroke="#231f20" stroke-width="0.9"/>
<line x1="488.90" y1="405.50" x2="488.90" y2="408.20" stroke="#231f20" stroke-width="0.9"/>
<line x1="505.20" y1="405.50" x2="505.20" y2="408.20" stroke="#231f20" stroke-width="0.9"/>
<line x1="152.20" y1="512.40" x2="152.20" y2="582.50" stroke="#231f20" stroke-width="1.2"/>
<line x1="152.20" y1="579.90" x2="487.30" y2="579.90" stroke="#231f20" stroke-width="1.2"/>
<line x1="152.20" y1="579.90" x2="152.20" y2="582.60" stroke="#231f20" stroke-width="0.9"/>
<line x1="185.52" y1="579.90" x2="185.52" y2="582.60" stroke="#231f20" stroke-width="0.9"/>
<line x1="218.84" y1="579.90" x2="218.84" y2="582.60" stroke="#231f20" stroke-width="0.9"/>
<line x1="252.16" y1="579.90" x2="252.16" y2="582.60" stroke="#231f20" stroke-width="0.9"/>
<line x1="285.48" y1="579.90" x2="285.48" y2="582.60" stroke="#231f20" stroke-width="0.9"/>
<line x1="318.80" y1="579.90" x2="318.80" y2="582.60" stroke="#231f20" stroke-width="0.9"/>
<line x1="352.12" y1="579.90" x2="352.12" y2="582.60" stroke="#231f20" stroke-width="0.9"/>
<line x1="385.44" y1="579.90" x2="385.44" y2="582.60" stroke="#231f20" stroke-width="0.9"/>
<line x1="418.76" y1="579.90" x2="418.76" y2="582.60" stroke="#231f20" stroke-width="0.9"/>
<line x1="452.08" y1="579.90" x2="452.08" y2="582.60" stroke="#231f20" stroke-width="0.9"/>
<line x1="485.40" y1="579.90" x2="485.40" y2="582.60" stroke="#231f20" stroke-width="0.9"/>
<line x1="149.00" y1="520.80" x2="152.20" y2="520.80" stroke="#231f20" stroke-width="0.9"/>
<line x1="149.00" y1="537.90" x2="152.20" y2="537.90" stroke="#231f20" stroke-width="0.9"/>
<line x1="149.00" y1="554.75" x2="152.20" y2="554.75" stroke="#231f20" stroke-width="0.9"/>
<line x1="149.00" y1="571.50" x2="152.20" y2="571.50" stroke="#231f20" stroke-width="0.9"/>
<rect x="0" y="0" width="520" height="1" fill="#5e5e5e"/>
<rect x="0" y="0" width="1" height="600" fill="#5e5e5e"/>
<rect x="519" y="0" width="1" height="600" fill="#5e5e5e"/>
<rect x="0" y="598.6" width="520" height="1.4" fill="#4a4a4a"/>
</svg>
</body></html>
